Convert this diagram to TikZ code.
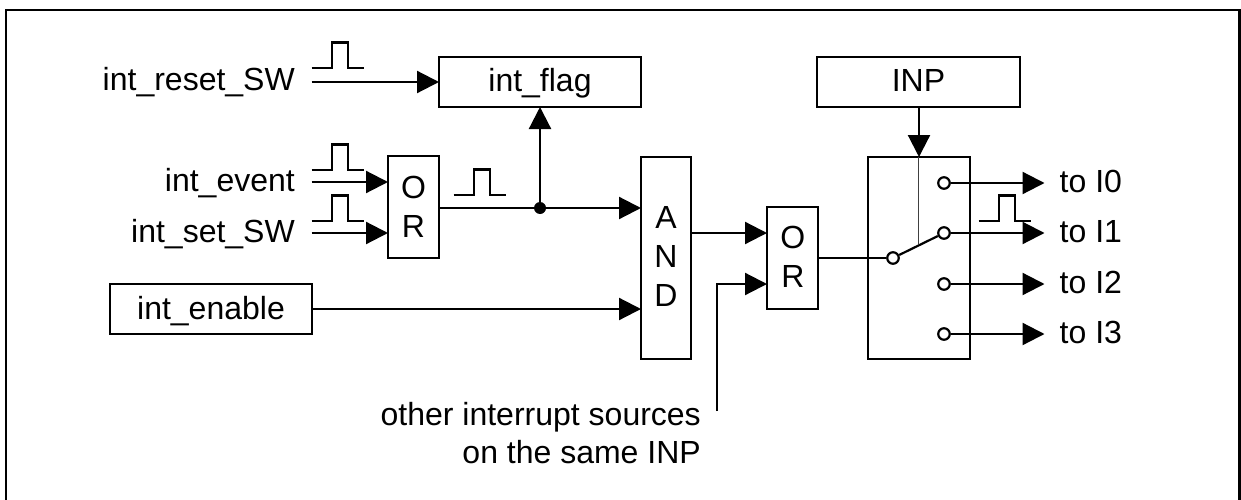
\documentclass[tikz,border=0pt]{standalone}
\usepackage{fontspec}
\setmainfont{Liberation Sans}
\usetikzlibrary{arrows.meta}
\tikzset{
  wire/.style={line width=2.2pt,black,line join=miter},
  arrowed/.style={wire,-{Triangle[length=22pt,width=22pt]}},
  blockbox/.style={draw,line width=2.2pt,outer sep=0pt,inner sep=0pt,font=\fontsize{32}{36}\selectfont,text height=20pt,text depth=0pt},
  lbl/.style={inner sep=0pt,font=\fontsize{32}{39}\selectfont},
  term/.style={draw,circle,line width=2.2pt,fill=white,minimum size=11.5pt,inner sep=0pt},
  pulseline/.style={line width=2.2pt,black},
  dotj/.style={circle,fill=black,minimum size=12pt,inner sep=0pt},
}
\newcommand{\pulseat}[2]{\draw[pulseline] (#1,#2) -- ++(20.5,0) -- ++(0,-25.5) -- ++(16,0) -- ++(0,25.5) -- ++(16,0);}
\begin{document}
\begin{tikzpicture}[x=1pt,y=-1pt]
\useasboundingbox (0,0) rectangle (1241,500);
\fill[white] (0,0) rectangle (1241,500);
\draw[line width=2.4pt] (6,500) -- (6,10) -- (1239.5,10) -- (1239.5,500);
% boxes
\node[blockbox,minimum width=202pt,minimum height=50pt] (flag) at (540,82) {int\_flag};
\node[blockbox,minimum width=51pt,minimum height=102pt] (orA) at (413.5,207) {};
\node[blockbox,minimum width=202pt,minimum height=50pt] (enable) at (211,309) {int\_enable};
\node[blockbox,minimum width=50pt,minimum height=202pt] (and) at (666,258) {};
\node[blockbox,minimum width=51pt,minimum height=102pt] (orB) at (792.5,258) {};
\node[blockbox,minimum width=203pt,minimum height=50pt] (inp) at (918.5,82) {INP};
\node[blockbox,minimum width=102pt,minimum height=202pt] (sw) at (919,258) {};
% letters in the gates
\node[lbl,align=center] (torA) at (413.5,206.8) {O\\R};
\node[lbl,align=center] (tand) at (666,256.9) {A\\N\\D};
\node[lbl,align=center] (torB) at (792.8,256.9) {O\\R};
% labels
\node[lbl,anchor=base east] (lreset) at (295,90.7) {int\_reset\_SW};
\node[lbl,anchor=base east] (levent) at (295,191.7) {int\_event};
\node[lbl,anchor=base east] (lset) at (295,242.3) {int\_set\_SW};
\node[lbl,anchor=base east] (lother1) at (701,425.7) {other interrupt sources};
\node[lbl,anchor=base east] (lother2) at (701,463.5) {on the same INP};
\node[lbl,anchor=base west] (t0) at (1059.5,192) {to I0};
\node[lbl,anchor=base west] (t1) at (1059.5,242.4) {to I1};
\node[lbl,anchor=base west] (t2) at (1059.5,293.3) {to I2};
\node[lbl,anchor=base west] (t3) at (1059.5,343.5) {to I3};
% free ends
\coordinate (sreset) at (311.5,82);
\coordinate (sevent) at (311.5,182);
\coordinate (sset) at (311.5,233);
\coordinate (sother) at (717,411);
\coordinate (eI0) at (1044.5,183);
\coordinate (eI1) at (1044.5,233);
\coordinate (eI2) at (1044.5,284);
\coordinate (eI3) at (1044.5,334);
\node[dotj] (junc) at (540,208) {};
% wires
\draw[arrowed] (sreset) -- (flag.west |- sreset);
\draw[arrowed] (sevent) -- (orA.west |- sevent);
\draw[arrowed] (sset) -- (orA.west |- sset);
\draw[wire] (orA.east |- junc) -- (junc.center);
\draw[arrowed] (junc.center) -- (flag.south);
\draw[arrowed] (junc.center) -- (and.west |- junc);
\draw[arrowed] (enable.east) -- (and.west |- enable);
\draw[arrowed] (and.east |- 0,233) -- (orB.west |- 0,233);
\draw[arrowed] (sother) |- (orB.west |- 0,284);
\draw[arrowed] (sw.north |- inp.south) -- (sw.north);
% switch
\coordinate (mech) at (918.5,243.5);
\draw[line width=1pt,black!75] (sw.north -| mech) -- (mech);
\node[term] (piv) at (893,258) {};
\node[term] (o0) at (944,183) {};
\node[term] (o1) at (944,233) {};
\node[term] (o2) at (944,284) {};
\node[term] (o3) at (944,334) {};
\draw[wire] (orB.east |- piv) -- (piv);
\draw[wire] (piv) -- (o1);
\draw[arrowed] (o0) -- (eI0);
\draw[arrowed] (o1) -- (eI1);
\draw[arrowed] (o2) -- (eI2);
\draw[arrowed] (o3) -- (eI3);
% pulses
\pulseat{311.5}{68}
\pulseat{311.5}{170}
\pulseat{311.5}{221}
\pulseat{453.5}{195}
\pulseat{978.5}{221}
\end{tikzpicture}
\end{document}
